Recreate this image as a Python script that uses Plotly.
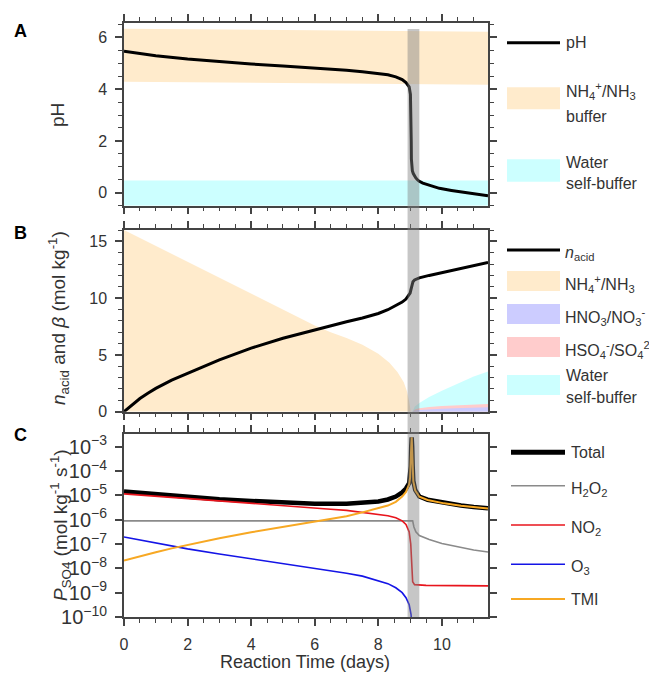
import plotly.graph_objects as go

# ---------------- data ----------------
# Panel A: pH evolution
ph_days = [0, 1, 2, 3, 4, 5, 6, 6.46, 7, 7.5, 8.03, 8.3, 8.55, 8.75, 8.87, 8.97,
           9.01, 9.03, 9.035, 9.04, 9.05, 9.07, 9.1, 9.14, 9.18, 9.23, 9.29, 9.4, 9.6, 9.92,
           10.3, 10.65, 11.0, 11.45]
ph_vals = [5.46, 5.29, 5.16, 5.06, 4.97, 4.89, 4.82, 4.79, 4.73, 4.67, 4.6, 4.55, 4.47, 4.37, 4.25, 4.09,
           3.8, 3.0, 2.0, 1.3, 1.0, 0.85, 0.74, 0.64, 0.57, 0.5, 0.44, 0.37, 0.29, 0.17,
           0.09, 0.02, -0.05, -0.12]

# Panel A: buffer ranges
nh4_band_days = [0, 3, 6, 9, 11.45]
nh4_band_low = [4.28, 4.25, 4.22, 4.19, 4.17]
nh4_band_high = [6.33, 6.30, 6.27, 6.23, 6.21]
water_band_days = [0, 11.45]
water_band_low = [-0.5, -0.5]
water_band_high = [0.47, 0.47]

# Panel B: acid added and buffer capacities
nacid_days = [0, 0.25, 0.5, 0.75, 1, 1.5, 2, 2.5, 3, 4, 5, 6, 6.46, 7, 7.5, 8.0, 8.3, 8.55, 8.75,
              8.87, 8.97, 9.0, 9.03, 9.06, 9.09, 9.14, 9.29, 9.6, 9.92, 10.3, 10.65, 11.0, 11.45]
nacid_vals = [0, 0.62, 1.16, 1.63, 2.05, 2.78, 3.39, 3.99, 4.56, 5.6, 6.47, 7.2, 7.56, 7.92, 8.25, 8.65,
              8.98, 9.32, 9.65, 9.92, 10.25, 10.45, 10.8, 11.2, 11.45, 11.6, 11.78, 12.0, 12.2, 12.45,
              12.65, 12.88, 13.15]

beta_nh4_days = [0, 1, 2, 3, 4, 5, 6, 6.5, 7, 7.5, 8, 8.35, 8.6, 8.8, 8.9, 8.97, 9.02]
beta_nh4 = [16, 14.6, 13.2, 11.8, 10.36, 9.0, 7.6, 7.0, 6.5, 5.9, 5.1, 4.3, 3.5, 2.6, 1.8, 0.9, 0]

beta_acid_days = [9.07, 9.15, 9.29, 9.6, 10.0, 10.65, 11.0, 11.45]
beta_water = [0, 0.45, 0.77, 1.3, 1.85, 2.65, 3.1, 3.53]
beta_hso4 = [0, 0.2, 0.3, 0.42, 0.5, 0.6, 0.64, 0.68]
beta_hno3 = [0, 0.1, 0.15, 0.22, 0.27, 0.33, 0.36, 0.39]

# Panel C: sulfate production rates, log10(mol kg-1 s-1)
total_days = [0, 1, 2, 3, 4, 5, 6, 7, 7.5, 8.0, 8.3, 8.55, 8.75, 8.87, 8.97, 9.0, 9.02, 9.035,
              9.05, 9.065, 9.08, 9.1, 9.16, 9.29, 9.55, 10.07, 10.6, 11.0, 11.45]
total_log10 = [-4.84, -4.96, -5.07, -5.16, -5.23, -5.3, -5.35, -5.35, -5.32, -5.25, -5.17, -5.05, -4.88,
               -4.72, -4.5, -4.25, -3.8, -3.0, -2.62, -3.0, -3.8, -4.4, -4.78, -5.05, -5.18, -5.32,
               -5.42, -5.48, -5.53]

tmi_days = [0, 0.5, 1, 1.5, 2, 3, 4, 5, 6, 6.5, 7, 7.5, 8.0, 8.3, 8.55, 8.75, 8.87, 8.97, 9.0, 9.02,
            9.035, 9.05, 9.065, 9.08, 9.1, 9.16, 9.29, 9.55, 10.07, 10.6, 11.0, 11.45]
tmi_log10 = [-7.68, -7.5, -7.34, -7.18, -7.03, -6.76, -6.52, -6.3, -6.1, -6.0, -5.86, -5.70, -5.54,
             -5.42, -5.27, -5.05, -4.86, -4.55, -4.27, -3.82, -3.0, -2.62, -3.0, -3.82, -4.42, -4.8,
             -5.06, -5.19, -5.33, -5.43, -5.49, -5.54]

h2o2_days = [0, 9.08, 9.12, 9.18, 9.29, 9.6, 10.0, 10.65, 11.0, 11.45]
h2o2_log10 = [-6.05, -6.05, -6.3, -6.5, -6.65, -6.82, -6.98, -7.16, -7.25, -7.33]

no2_days = [0, 1, 2, 3, 4, 5, 6, 6.5, 7, 7.5, 8.0, 8.3, 8.55, 8.75, 8.87, 8.97, 9.02, 9.05,
            9.08, 9.14, 9.5, 10.5, 11.45]
no2_log10 = [-4.94, -5.04, -5.14, -5.25, -5.35, -5.44, -5.53, -5.57, -5.62, -5.70, -5.78, -5.84, -5.92,
             -6.05, -6.2, -6.5, -7.0, -8.0, -8.55, -8.67, -8.7, -8.71, -8.72]

o3_days = [0, 1, 2, 3, 4, 5, 6, 6.5, 7, 7.5, 8.0, 8.3, 8.55, 8.75, 8.87, 8.97, 9.03, 9.06]
o3_log10 = [-6.71, -6.97, -7.2, -7.41, -7.61, -7.81, -8.01, -8.08, -8.2, -8.32, -8.5, -8.63, -8.8,
            -9.0, -9.21, -9.49, -9.9, -10.5]

# transition window (days)
transition = [8.92, 9.29]

x_ticks = [0, 2, 4, 6, 8, 10]
x_range = [0, 11.45]

# ---------------- geometry ----------------
W, H = 649, 673
ML, MR, MT, MB = 124, 161, 23, 56
PW = W - ML - MR
PHt = H - MT - MB


def px(x):
    return (x - ML) / PW


def py(y):
    return (H - MB - y) / PHt


AX = "#444444"
TXT = "#333333"
FONT = "Liberation Sans, Arial, sans-serif"

C_NH4 = "rgb(255,235,204)"
C_WAT = "rgb(204,255,255)"
C_HNO3 = "rgb(204,204,255)"
C_HSO4 = "rgb(255,204,204)"
C_RED = "#e8141c"
C_BLUE = "#1414e6"
C_ORANGE = "#f7a823"
C_GRAY = "#8a8a8a"

fig = go.Figure()

# ---- panel A ----
fig.add_trace(go.Scatter(x=nh4_band_days, y=nh4_band_low, mode="lines", line=dict(width=0),
                         showlegend=False, hoverinfo="skip", xaxis="x", yaxis="y"))
fig.add_trace(go.Scatter(x=nh4_band_days, y=nh4_band_high, mode="lines", line=dict(width=0),
                         fill="tonexty", fillcolor=C_NH4, showlegend=False, hoverinfo="skip",
                         xaxis="x", yaxis="y"))
fig.add_trace(go.Scatter(x=water_band_days, y=water_band_low, mode="lines", line=dict(width=0),
                         showlegend=False, hoverinfo="skip", xaxis="x", yaxis="y"))
fig.add_trace(go.Scatter(x=water_band_days, y=water_band_high, mode="lines", line=dict(width=0),
                         fill="tonexty", fillcolor=C_WAT, showlegend=False, hoverinfo="skip",
                         xaxis="x", yaxis="y"))
fig.add_trace(go.Scatter(x=ph_days, y=ph_vals, mode="lines", line=dict(color="black", width=3),
                         showlegend=False, xaxis="x", yaxis="y"))

# ---- panel B ----
fig.add_trace(go.Scatter(x=beta_nh4_days, y=beta_nh4, mode="lines", line=dict(width=0),
                         fill="tozeroy", fillcolor=C_NH4, showlegend=False, xaxis="x2", yaxis="y2"))
fig.add_trace(go.Scatter(x=beta_acid_days, y=beta_water, mode="lines", line=dict(width=0),
                         fill="tozeroy", fillcolor=C_WAT, showlegend=False, xaxis="x2", yaxis="y2"))
fig.add_trace(go.Scatter(x=beta_acid_days, y=beta_hso4, mode="lines", line=dict(width=0),
                         fill="tozeroy", fillcolor=C_HSO4, showlegend=False, xaxis="x2", yaxis="y2"))
fig.add_trace(go.Scatter(x=beta_acid_days, y=beta_hno3, mode="lines", line=dict(width=0),
                         fill="tozeroy", fillcolor=C_HNO3, showlegend=False, xaxis="x2", yaxis="y2"))
fig.add_trace(go.Scatter(x=nacid_days, y=nacid_vals, mode="lines", line=dict(color="black", width=3),
                         showlegend=False, xaxis="x2", yaxis="y2"))

# ---- panel C ----
def rate(vals):
    return [10 ** v for v in vals]


fig.add_trace(go.Scatter(x=total_days, y=rate(total_log10), mode="lines",
                         line=dict(color="black", width=4.5), showlegend=False, xaxis="x3", yaxis="y3"))
fig.add_trace(go.Scatter(x=h2o2_days, y=rate(h2o2_log10), mode="lines",
                         line=dict(color=C_GRAY, width=1.6), showlegend=False, xaxis="x3", yaxis="y3"))
fig.add_trace(go.Scatter(x=no2_days, y=rate(no2_log10), mode="lines",
                         line=dict(color=C_RED, width=1.6), showlegend=False, xaxis="x3", yaxis="y3"))
fig.add_trace(go.Scatter(x=o3_days, y=rate(o3_log10), mode="lines",
                         line=dict(color=C_BLUE, width=1.6), showlegend=False, xaxis="x3", yaxis="y3"))
fig.add_trace(go.Scatter(x=tmi_days, y=rate(tmi_log10), mode="lines",
                         line=dict(color=C_ORANGE, width=2), showlegend=False, xaxis="x3", yaxis="y3"))

# ---------------- axes ----------------
minor_x = dict(dtick=0.5, tick0=0, ticklen=4, tickwidth=1.3, tickcolor=AX, ticks="outside")
base_axis = dict(showline=True, linecolor=AX, linewidth=1.5, ticks="outside", ticklen=7,
                 tickwidth=1.5, tickcolor=AX, mirror="ticks", showgrid=False, zeroline=False,
                 tickfont=dict(family=FONT, size=16, color=TXT))

dom_a = [py(205.7), 1.0]
dom_b = [py(411.7), py(230)]
dom_c = [0.0, py(434)]

fig.update_layout(
    xaxis=dict(base_axis, range=x_range, tickvals=x_ticks, minor=minor_x, anchor="y",
               showticklabels=False, domain=[0, 1]),
    xaxis2=dict(base_axis, range=x_range, tickvals=x_ticks, minor=minor_x, anchor="y2",
                showticklabels=False, domain=[0, 1]),
    xaxis3=dict(base_axis, range=x_range, tickvals=x_ticks, minor=minor_x, anchor="y3",
                domain=[0, 1], ticklabelstandoff=5),
    yaxis=dict(base_axis, domain=dom_a, range=[-0.5, 6.55], dtick=2, tick0=0,
               minor=dict(dtick=0.5, tick0=0, ticklen=4, tickwidth=1.3, tickcolor=AX, ticks="outside"),
               anchor="x", ticklabelstandoff=5),
    yaxis2=dict(base_axis, domain=dom_b, range=[0, 16], dtick=5, tick0=0,
                minor=dict(dtick=1, tick0=0, ticklen=4, tickwidth=1.3, tickcolor=AX, ticks="outside"),
                anchor="x2", ticklabelstandoff=5),
    yaxis3=dict(base_axis, domain=dom_c, type="log", range=[-10, -2.48], dtick=1,
                exponentformat="power", anchor="x3", ticklabelstandoff=5),
)

# transition window shading
fig.add_shape(type="rect", xref="x", yref="paper", x0=transition[0], x1=transition[1],
              y0=0, y1=py(29), fillcolor="rgba(128,128,128,0.45)", line=dict(width=0), layer="above")

# ---------------- legends and labels ----------------
annotations = []


def label(text, x, y, size=16, xanchor="left", angle=0, bold=False):
    t = f"<b>{text}</b>" if bold else text
    annotations.append(dict(text=t, x=px(x), y=py(y), xref="paper", yref="paper",
                            xanchor=xanchor, yanchor="middle", showarrow=False, textangle=angle,
                            font=dict(family=FONT, size=size, color=TXT if not bold else "black")))


def swatch_line(x0, x1, y, color, width):
    fig.add_shape(type="line", xref="paper", yref="paper", x0=px(x0), x1=px(x1), y0=py(y), y1=py(y),
                  line=dict(color=color, width=width))


def swatch_box(y0, y1, color, x0=507, x1=560):
    fig.add_shape(type="rect", xref="paper", yref="paper", x0=px(x0), x1=px(x1), y0=py(y1), y1=py(y0),
                  fillcolor=color, line=dict(width=0))


# panel A legend
swatch_line(507, 560, 42.7, "black", 3)
label("pH", 564, 43)
swatch_box(87.3, 109.3, C_NH4)
label("NH<sub>4</sub><sup>+</sup>/NH<sub>3</sub>", 564, 91)
label("buffer", 564, 117)
swatch_box(159.3, 181.7, C_WAT)
label("Water", 564, 162)
label("self-buffer", 564, 183)

# panel B legend
swatch_line(507, 560, 250, "black", 3)
label("<i>n</i><sub>acid</sub>", 563, 253)
swatch_box(271, 291, C_NH4)
label("NH<sub>4</sub><sup>+</sup>/NH<sub>3</sub>", 563, 284)
swatch_box(304, 324, C_HNO3)
label("HNO<sub>3</sub>/NO<sub>3</sub><sup>-</sup>", 563, 317)
swatch_box(337, 357, C_HSO4)
label("HSO<sub>4</sub><sup>-</sup>/SO<sub>4</sub><sup>2-</sup>", 563, 350)
swatch_box(375, 395, C_WAT)
label("Water", 564, 375)
label("self-buffer", 564, 397)

# panel C legend
swatch_line(511, 565, 452.3, "black", 5)
label("Total", 569, 452)
swatch_line(511, 565, 485.7, C_GRAY, 1.6)
label("H<sub>2</sub>O<sub>2</sub>", 569, 489)
swatch_line(511, 565, 525, C_RED, 1.6)
label("NO<sub>2</sub>", 569, 528)
swatch_line(511, 565, 564.3, C_BLUE, 1.6)
label("O<sub>3</sub>", 569, 567)
swatch_line(511, 565, 599, C_ORANGE, 2)
label("TMI", 569, 599)

# axis titles
label("pH", 58, 115, size=19, xanchor="center", angle=-90)
label("<i>n</i><sub>acid</sub> and <i>β</i> (mol kg<sup>-1</sup>)", 58, 318, size=19,
      xanchor="center", angle=-90)
label("<i>P</i><sub>SO4</sub> (mol kg<sup>-1</sup> s<sup>-1</sup>)", 60, 525, size=19,
      xanchor="center", angle=-90)
label("Reaction Time (days)", 305, 662, size=18, xanchor="center")

# panel letters
label("A", 20, 31, size=18, xanchor="center", bold=True)
label("B", 20, 233, size=18, xanchor="center", bold=True)
label("C", 20, 435, size=18, xanchor="center", bold=True)

fig.update_layout(
    annotations=annotations,
    width=W, height=H,
    margin=dict(l=ML, r=MR, t=MT, b=MB, pad=0),
    paper_bgcolor="white", plot_bgcolor="white",
    showlegend=False,
    font=dict(family=FONT, color=TXT),
)

fig.write_html("out.html", config={"displayModeBar": False})
